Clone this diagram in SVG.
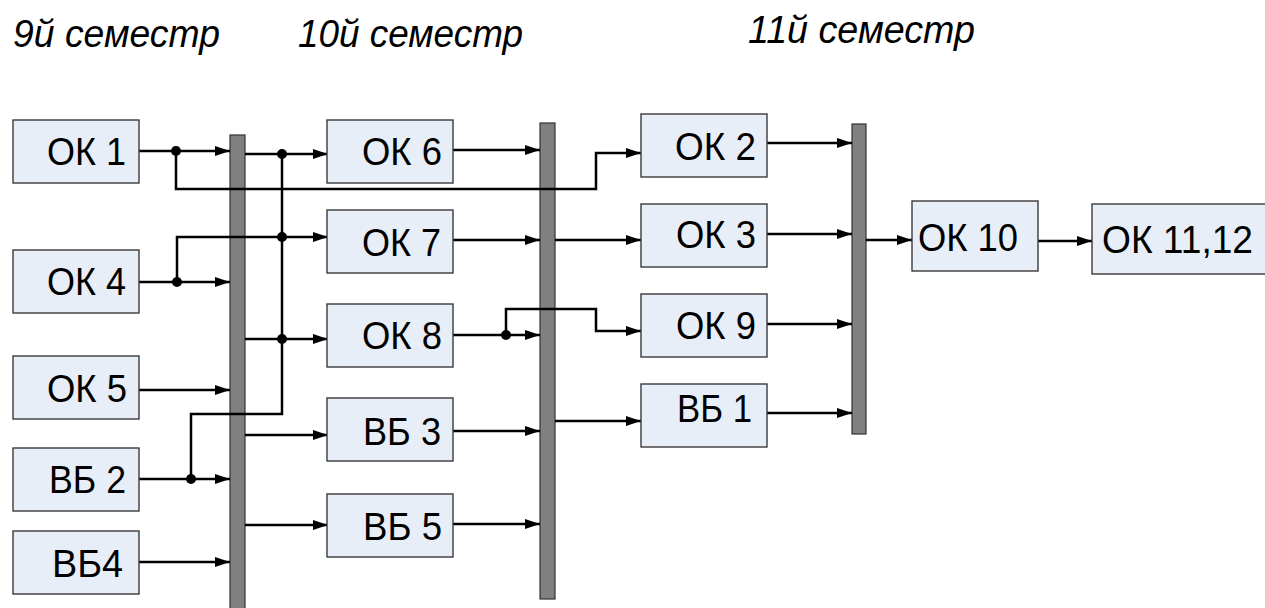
<svg xmlns="http://www.w3.org/2000/svg" width="1265" height="608" viewBox="0 0 1265 608">
<style>
.box{fill:#E8EEF8;stroke:#3a3a3a;stroke-width:1.4}
.bar{fill:#808080;stroke:#333;stroke-width:1.2}
.lbl{font-family:"Liberation Sans",Arial,sans-serif;font-size:39px;fill:#000}
.ttl{font-family:"Liberation Sans",Arial,sans-serif;font-size:38px;font-style:italic;fill:#000}
.ln{fill:none;stroke:#000;stroke-width:2.5}
.arr{marker-end:url(#ah)}
.dot{fill:#000}
</style>
<defs>
<marker id="ah" markerUnits="userSpaceOnUse" markerWidth="15" markerHeight="10" refX="15" refY="5" orient="auto">
<path d="M0,0 L15,5 L0,10 z" fill="#000"/>
</marker>
</defs>
<g id="titles">
<text class="ttl" x="13" y="47" textLength="207" lengthAdjust="spacingAndGlyphs">9й семестр</text>
<text class="ttl" x="298" y="47" textLength="225" lengthAdjust="spacingAndGlyphs">10й семестр</text>
<text class="ttl" x="748" y="43" textLength="227" lengthAdjust="spacingAndGlyphs">11й семестр</text>
</g>
<g id="bar1"><rect class="bar" x="230" y="135" width="15" height="480"/></g>
<g id="bar2"><rect class="bar" x="540" y="123" width="15" height="476"/></g>
<g id="bar3"><rect class="bar" x="852" y="124" width="14" height="310"/></g>
<g id="connectors">
<path class="ln arr" d="M139,151 H230"/>
<path class="ln arr" d="M176,151 V189 H596 V153 H641"/>
<path class="ln arr" d="M139,282 H230"/>
<path class="ln arr" d="M177,282 V237 H328"/>
<path class="ln arr" d="M139,390 H230"/>
<path class="ln arr" d="M139,479 H230"/>
<path class="ln" d="M191,479 V414 H282 V154"/>
<path class="ln arr" d="M139,562 H230"/>
<path class="ln arr" d="M245,154 H328"/>
<path class="ln arr" d="M245,339 H328"/>
<path class="ln arr" d="M245,435 H328"/>
<path class="ln arr" d="M245,525 H328"/>
<path class="ln arr" d="M453,150 H540"/>
<path class="ln arr" d="M453,240 H540"/>
<path class="ln arr" d="M453,335 H540"/>
<path class="ln arr" d="M506,335 V309 H596 V331 H641"/>
<path class="ln arr" d="M453,431 H540"/>
<path class="ln arr" d="M453,524 H540"/>
<path class="ln arr" d="M555,240 H641"/>
<path class="ln arr" d="M555,421 H641"/>
<path class="ln arr" d="M767,143 H852"/>
<path class="ln arr" d="M767,234 H852"/>
<path class="ln arr" d="M767,324 H852"/>
<path class="ln arr" d="M767,413 H852"/>
<path class="ln arr" d="M866,240 H912"/>
<path class="ln arr" d="M1038,241 H1092"/>
<circle class="dot" cx="176" cy="151" r="5"/>
<circle class="dot" cx="177" cy="282" r="5"/>
<circle class="dot" cx="282" cy="154" r="5"/>
<circle class="dot" cx="282" cy="237" r="5"/>
<circle class="dot" cx="282" cy="339" r="5"/>
<circle class="dot" cx="191" cy="479" r="5"/>
<circle class="dot" cx="506" cy="335" r="5"/>
</g>
<g id="ok1"><rect class="box" x="13" y="120" width="126" height="63"/><text class="lbl" x="47" y="165" textLength="79" lengthAdjust="spacingAndGlyphs">ОК 1</text></g>
<g id="ok4"><rect class="box" x="13" y="250" width="126" height="63"/><text class="lbl" x="47" y="295" textLength="79" lengthAdjust="spacingAndGlyphs">ОК 4</text></g>
<g id="ok5"><rect class="box" x="13" y="356" width="126" height="63"/><text class="lbl" x="47" y="402" textLength="80" lengthAdjust="spacingAndGlyphs">ОК 5</text></g>
<g id="vb2"><rect class="box" x="13" y="448" width="126" height="63"/><text class="lbl" x="49" y="493" textLength="77" lengthAdjust="spacingAndGlyphs">ВБ 2</text></g>
<g id="vb4"><rect class="box" x="13" y="531" width="126" height="63"/><text class="lbl" x="52" y="577" textLength="71" lengthAdjust="spacingAndGlyphs">ВБ4</text></g>
<g id="ok6"><rect class="box" x="327" y="120" width="126" height="63"/><text class="lbl" x="362" y="165" textLength="80" lengthAdjust="spacingAndGlyphs">ОК 6</text></g>
<g id="ok7"><rect class="box" x="327" y="210" width="126" height="63"/><text class="lbl" x="362" y="256" textLength="79" lengthAdjust="spacingAndGlyphs">ОК 7</text></g>
<g id="ok8"><rect class="box" x="327" y="304" width="126" height="63"/><text class="lbl" x="362" y="349" textLength="80" lengthAdjust="spacingAndGlyphs">ОК 8</text></g>
<g id="vb3"><rect class="box" x="327" y="398" width="126" height="63"/><text class="lbl" x="363" y="445" textLength="78" lengthAdjust="spacingAndGlyphs">ВБ 3</text></g>
<g id="vb5"><rect class="box" x="327" y="494" width="126" height="63"/><text class="lbl" x="363" y="540" textLength="79" lengthAdjust="spacingAndGlyphs">ВБ 5</text></g>
<g id="ok2"><rect class="box" x="641" y="114" width="126" height="63"/><text class="lbl" x="675" y="160" textLength="81" lengthAdjust="spacingAndGlyphs">ОК 2</text></g>
<g id="ok3"><rect class="box" x="641" y="204" width="126" height="63"/><text class="lbl" x="676" y="248" textLength="80" lengthAdjust="spacingAndGlyphs">ОК 3</text></g>
<g id="ok9"><rect class="box" x="641" y="294" width="126" height="63"/><text class="lbl" x="676" y="339" textLength="80" lengthAdjust="spacingAndGlyphs">ОК 9</text></g>
<g id="vb1"><rect class="box" x="641" y="384" width="126" height="63"/><text class="lbl" x="677" y="422" textLength="75" lengthAdjust="spacingAndGlyphs">ВБ 1</text></g>
<g id="ok10"><rect class="box" x="912" y="201" width="126" height="70"/><text class="lbl" x="918" y="251" textLength="100" lengthAdjust="spacingAndGlyphs">ОК 10</text></g>
<g id="ok1112"><rect class="box" x="1092" y="204" width="190" height="70"/><text class="lbl" x="1102" y="253" textLength="151" lengthAdjust="spacingAndGlyphs">ОК 11,12</text></g>
</svg>
